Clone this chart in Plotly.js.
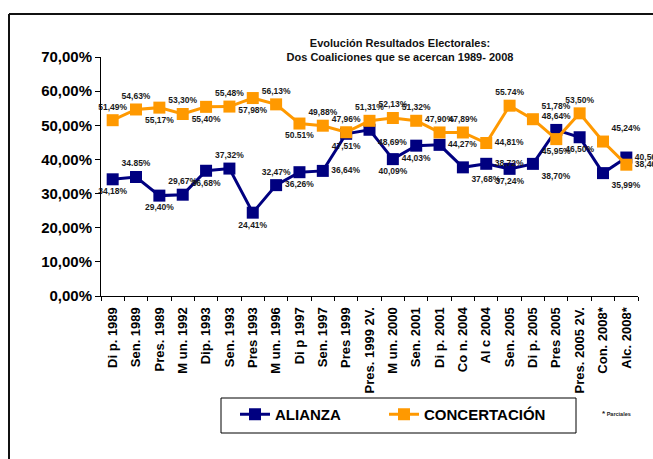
<!DOCTYPE html>
<html>
<head>
<meta charset="utf-8">
<script src="https://cdn.plot.ly/plotly-3.0.1.min.js"></script>
<style>
html,body{margin:0;padding:0;background:#fff;}
#chart{width:653px;height:459px;}
</style>
</head>
<body>
<div id="chart"></div>
<script>
const categories = ["Di p. 1989","Sen. 1989","Pres. 1989","M un. 1992","Dip. 1993","Sen. 1993","Pres 1993","M un. 1996","Di p 1997","Sen. 1997","Pres 1999","Pres. 1999 2V.","M un. 2000","Sen. 2001","Di p. 2001","Co n. 2004","Al c 2004","Sen. 2005","Di p. 2005","Pres 2005","Pres. 2005 2V.","Con. 2008*","Alc. 2008*"];
const alianza = [34.18,34.85,29.40,29.67,36.68,37.32,24.41,32.47,36.26,36.64,47.51,48.69,40.09,44.03,44.27,37.68,38.72,37.24,38.70,48.64,46.50,35.99,40.56];
const concertacion = [51.49,54.63,55.17,53.30,55.40,55.48,57.98,56.13,50.51,49.88,47.96,51.31,52.13,51.32,47.90,47.89,44.81,55.74,51.78,45.95,53.50,45.24,38.46];
const alianzaDotLabels = [1];
const concertacionDotLabels = [8,17];
const yTicks = [0,10,20,30,40,50,60,70];

function fmt(vals, dots){
  return vals.map((v,i)=>{
    const s = v.toFixed(2);
    return (dots.includes(i) ? s : s.replace('.', ',')) + '%';
  });
}

const alianzaPos = ["bottom center","top center","bottom center","top center","bottom center","top center","bottom center","top center","bottom center","middle right","bottom center","bottom right","bottom center","bottom center","middle right","bottom right","middle right","bottom center","bottom right","top center","bottom center","bottom right","middle right"];
const concPos = ["top center","top center","bottom center","top center","bottom center","top center","bottom center","top center","bottom center","top center","top center","top center","top center","top center","top center","top center","middle right","top center","top right","bottom center","top center","top right","middle right"];

const F = "Liberation Sans, Arial, sans-serif";
const labelFont = {family:F, size:8.5, color:"#1a1a1a", weight:"bold"};

const traces = [
  {x:categories, y:alianza, name:"ALIANZA", type:"scatter", mode:"lines+markers+text", legend:"legend",
   line:{color:"#000080", width:3}, marker:{symbol:"square", size:12, color:"#000080"},
   text:fmt(alianza, alianzaDotLabels), textposition:alianzaPos, textfont:labelFont, cliponaxis:false, hoverinfo:"skip"},
  {x:categories, y:concertacion, name:"CONCERTACIÓN", type:"scatter", mode:"lines+markers+text", legend:"legend2",
   line:{color:"#FF9900", width:3}, marker:{symbol:"square", size:12, color:"#FF9900"},
   text:fmt(concertacion, concertacionDotLabels), textposition:concPos, textfont:labelFont, cliponaxis:false, hoverinfo:"skip"}
];

const L=101, R=15, T=57, B=163, W=653, H=459;
const pw = W-L-R, ph = H-T-B;
const px = x => (x-L)/pw;
const py = y => (H-B-y)/ph;

const legFont = {family:F, size:15, color:"#000", weight:"bold"};

const layout = {
  width:W, height:H,
  margin:{l:L, r:R, t:T, b:B, pad:0},
  paper_bgcolor:"#fff", plot_bgcolor:"#fff",
  showlegend:true,
  title:{text:"Evolución Resultados Electorales:<br>Dos Coaliciones que se acercan 1989- 2008",
         x:400/W, xanchor:"center", y:1-47/H, yanchor:"top", yref:"container",
         font:{family:F, size:11, color:"#111", weight:"bold"}},
  xaxis:{type:"category", range:[-0.5, categories.length-0.5], autorange:false,
         showline:true, linecolor:"#000", linewidth:1, ticks:"outside", ticklen:4, tickcolor:"#000",
         tickson:"boundaries", tickangle:-90, showgrid:false, zeroline:false, ticklabelstandoff:5,
         tickfont:{family:F, size:13, color:"#000", weight:"bold"}, fixedrange:true},
  yaxis:{range:[0,70], autorange:false, tickvals:yTicks, ticktext:yTicks.map(v=>v.toFixed(2).replace('.',',')+'%'),
         showline:true, linecolor:"#000", linewidth:1, ticks:"outside", ticklen:5, tickcolor:"#000",
         showgrid:false, zeroline:false, tickfont:{family:F, size:15, color:"#000", weight:"bold"}, fixedrange:true},
  legend:{orientation:"h", x:px(235), xanchor:"left", y:py(398), yanchor:"top",
          borderwidth:0, bgcolor:"rgba(0,0,0,0)", font:legFont, itemwidth:30},
  legend2:{orientation:"h", x:px(384), xanchor:"left", y:py(398), yanchor:"top",
          borderwidth:0, bgcolor:"rgba(0,0,0,0)", font:legFont, itemwidth:30},
  shapes:[
    {type:"line", xref:"paper", yref:"paper", x0:px(9), x1:px(9), y0:py(470), y1:py(14), line:{color:"#111", width:2}},
    {type:"line", xref:"paper", yref:"paper", x0:px(9), x1:px(660), y0:py(14), y1:py(14), line:{color:"#111", width:2}},
    {type:"rect", xref:"paper", yref:"paper", x0:px(221), x1:px(576), y0:py(433), y1:py(398), line:{color:"#000", width:1}, fillcolor:"rgba(0,0,0,0)", layer:"below"}
  ],
  annotations:[
    {xref:"paper", yref:"paper", x:px(600), y:py(413), xanchor:"left", yanchor:"middle", showarrow:false,
     text:"<span style='font-size:8px'>*</span> Parciales", font:{family:F, size:5.5, color:"#222", weight:"bold"}}
  ]
};

Plotly.newPlot("chart", traces, layout, {displayModeBar:false, staticPlot:true});
</script>
</body>
</html>
